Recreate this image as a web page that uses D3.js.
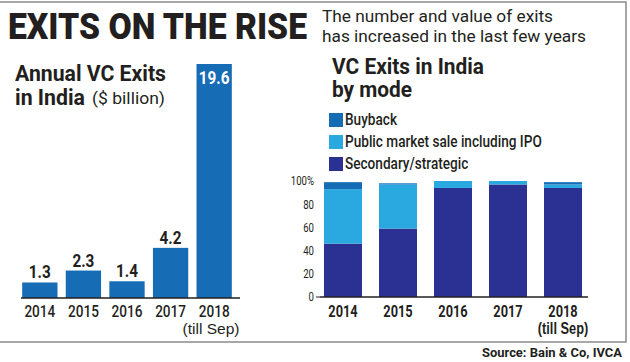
<!DOCTYPE html>
<html>
<head>
<meta charset="utf-8">
<script src="https://cdn.jsdelivr.net/npm/d3@7"></script>
<style>
  body { margin:0; background:#fff; }
  svg { display:block; font-family: Roboto, "Open Sans", sans-serif; }
</style>
</head>
<body>
<svg width="630" height="362"></svg>
<script>
// data
const years = ['2014','2015','2016','2017','2018'];
const exitValues = [1.3, 2.3, 1.4, 4.2, 19.6];
const modes = ['Buyback','Public market sale including IPO','Secondary/strategic'];
const secondary = [46, 59, 94, 97, 94];
const publicSale = [47, 38, 6, 3, 3];
const buyback = [6, 1, 0, 0, 2];
const pctTicks = [0, 20, 40, 60, 80, 100];

const svg = d3.select('svg');
const ink = '#231f20';
const colors = { buyback:'#176cb6', publicSale:'#2aa8e0', secondary:'#2b3192' };

// squeeze text to a width (or by a factor) to get the condensed newspaper look
const squeeze = (sel, w) => sel.each(function(){
    const len = this.getComputedTextLength();
    const target = w < 2 ? len * w : w;
    d3.select(this).attr('textLength', target).attr('lengthAdjust','spacingAndGlyphs');
});

// frame
svg.append('path')
    .attr('d','M0,2H626V342H0')
    .attr('fill','none')
    .attr('stroke','#8c8c8c')
    .attr('stroke-width',1.5);

// headings
svg.append('text').text('EXITS ON THE RISE')
    .attr('x',8).attr('y',39)
    .attr('font-size',37).attr('font-weight',900).attr('fill',ink)
    .call(squeeze, 299);

svg.append('text').text('The number and value of exits')
    .attr('x',322).attr('y',22)
    .attr('font-size',17).attr('fill',ink)
    .call(squeeze, 231);
svg.append('text').text('has increased in the last few years')
    .attr('x',322).attr('y',42)
    .attr('font-size',17).attr('fill',ink)
    .call(squeeze, 264);

svg.append('text').text('Annual VC Exits')
    .attr('x',15).attr('y',81)
    .attr('font-size',22).attr('font-weight',700).attr('fill',ink)
    .call(squeeze, 151);
svg.append('text').text('in India')
    .attr('x',15).attr('y',105)
    .attr('font-size',22).attr('font-weight',700).attr('fill',ink)
    .call(squeeze, 70);
svg.append('text').text('($ billion)')
    .attr('x',92).attr('y',104)
    .attr('font-size',17).attr('fill',ink)
    .call(squeeze, 73);

svg.append('text').text('VC Exits in India')
    .attr('x',332).attr('y',74)
    .attr('font-size',22).attr('font-weight',700).attr('fill',ink)
    .call(squeeze, 152);
svg.append('text').text('by mode')
    .attr('x',332).attr('y',97)
    .attr('font-size',22).attr('font-weight',700).attr('fill',ink)
    .call(squeeze, 80);

// ---- left chart: annual exits ----
const xL = d3.scaleBand().domain(years).range([20,234]).paddingInner(0.19).paddingOuter(0.05);
const yL = d3.scaleLinear().domain([0,19.6]).range([298,64]);

const gL = svg.append('g');
gL.selectAll('rect').data(exitValues)
    .enter().append('rect')
        .attr('x',(d,i) => xL(years[i]))
        .attr('width',xL.bandwidth())
        .attr('y',d => yL(d))
        .attr('height',d => yL(0) - yL(d))
        .attr('fill',colors.buyback);

gL.selectAll('.val').data(exitValues)
    .enter().append('text')
        .attr('class','val')
        .text(d => d.toFixed(1))
        .attr('x',(d,i) => xL(years[i]) + xL.bandwidth()/2)
        .attr('y',d => d > 10 ? yL(d) + 20 : yL(d) - 4)
        .attr('text-anchor','middle')
        .attr('font-size',18).attr('font-weight',700)
        .attr('fill',d => d > 10 ? '#fff' : ink)
        .call(squeeze, 0.85);

const xAxisL = gL.append('g')
    .attr('transform',`translate(0,${yL(0)})`)
    .call(d3.axisBottom(xL).tickSize(0).tickPadding(8));
xAxisL.select('.domain').attr('stroke',ink).attr('stroke-width',1.5)
    .attr('d','M21,0H240');
xAxisL.selectAll('text')
    .attr('font-size',16).attr('font-weight',500).attr('fill',ink)
    .attr('font-family','Roboto')
    .call(squeeze, 0.85);
xAxisL.append('text').text('(till Sep)')
    .attr('x',211).attr('y',36)
    .attr('text-anchor','middle')
    .attr('font-size',15).attr('font-weight',500).attr('fill',ink)
    .call(squeeze, 57);

// ---- right chart: exits by mode ----
const xR = d3.scaleBand().domain(years).range([317,589]).paddingInner(0.309).paddingOuter(0.127);
const yR = d3.scaleLinear().domain([0,100]).range([297,181]);

const table = years.map((y,i) => ({ year:y, secondary:secondary[i], publicSale:publicSale[i], buyback:buyback[i] }));
const stack = d3.stack().keys(['secondary','publicSale','buyback'])(table);

const gR = svg.append('g');
gR.selectAll('g.layer').data(stack)
    .enter().append('g')
        .attr('class','layer')
        .attr('fill',d => colors[d.key])
    .selectAll('rect').data(d => d)
    .enter().append('rect')
        .attr('x',d => xR(d.data.year))
        .attr('width',xR.bandwidth())
        .attr('y',d => yR(d[1]))
        .attr('height',d => yR(d[0]) - yR(d[1]));

const yAxisR = gR.append('g')
    .attr('transform','translate(320,0)')
    .call(d3.axisLeft(yR).tickValues(pctTicks).tickSize(0).tickPadding(6)
        .tickFormat(d => d === 100 ? '100%' : d));
yAxisR.select('.domain').remove();
yAxisR.selectAll('text')
    .attr('font-size',12).attr('fill',ink).attr('font-family','Roboto')
    .call(squeeze, 0.8);
yAxisR.append('line')
    .attr('x1',-4).attr('x2',0).attr('y1',yR(0)).attr('y2',yR(0))
    .attr('stroke',ink);

const xAxisR = gR.append('g')
    .attr('transform',`translate(0,${yR(0)})`)
    .call(d3.axisBottom(xR).tickSize(0).tickPadding(9));
xAxisR.select('.domain').attr('stroke',ink).attr('stroke-width',1.5)
    .attr('d','M320,0H588');
xAxisR.selectAll('text')
    .attr('font-size',16).attr('font-weight',700).attr('fill',ink)
    .attr('font-family','Roboto')
    .call(squeeze, 0.8);
xAxisR.append('text').text('(till Sep)')
    .attr('x',xR('2018') + xR.bandwidth()/2).attr('y',37)
    .attr('text-anchor','middle')
    .attr('font-size',16).attr('font-weight',700).attr('fill',ink)
    .call(squeeze, 0.8);

// legend
const legendKeys = ['buyback','publicSale','secondary'];
const legend = svg.append('g').selectAll('g').data(modes)
    .enter().append('g')
        .attr('transform',(d,i) => `translate(329,${113 + i*22})`);
legend.append('rect')
    .attr('width',14).attr('height',14)
    .attr('fill',(d,i) => colors[legendKeys[i]]);
legend.append('text')
    .text(d => d)
    .attr('x',16).attr('y',12)
    .attr('font-size',16).attr('font-weight',500).attr('fill',ink)
    .call(squeeze, 0.85);

// source
svg.append('text').text('Source: Bain & Co, IVCA')
    .attr('x',622).attr('y',357)
    .attr('text-anchor','end')
    .attr('font-size',12).attr('font-weight',700).attr('fill',ink)
    .call(squeeze, 140);
</script>
</body>
</html>
